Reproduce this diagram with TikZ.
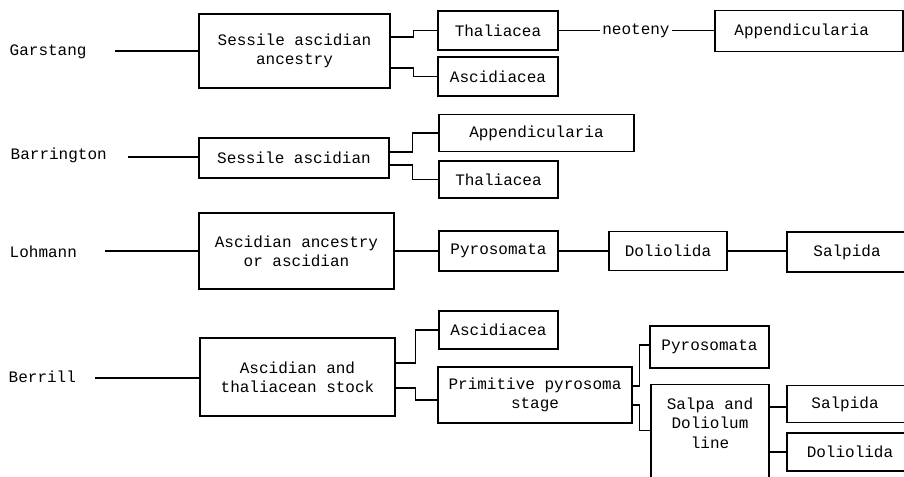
\documentclass[tikz,border=0pt]{standalone}
\usepackage{fontspec}
\setmonofont{Liberation Mono}
\usetikzlibrary{calc}

\tikzset{every picture/.style={line width=1.1pt}}
\tikzset{
  box/.style={draw, inner sep=0pt, align=center, font=\ttfamily\fontsize{12}{14.5}\selectfont},
  bw/.style={minimum width=#1*0.75pt},
  bh/.style={minimum height=#1*0.75pt},
  author/.style={anchor=west, inner sep=0pt, font=\ttfamily\fontsize{12}{14.5}\selectfont},
  word/.style={inner sep=1.5pt, font=\ttfamily\fontsize{12}{14.5}\selectfont}
}

\begin{document}
\begin{tikzpicture}[x=0.75pt,y=0.75pt,yscale=-1,xscale=1]
\useasboundingbox (0,0) rectangle (904,476);
\clip (0,0) rectangle (904,476);

%Garstang
\node [author] (lgar) at (9,52) {Garstang};
\coordinate (gstart) at (115,51);
\node [box, bw=191, bh=74] (gbox) at (294.5,51) {Sessile ascidian\\ancestry};
\node [box, bw=120, bh=39] (gthal) at (498,30.5) {Thaliacea};
\node [box, bw=120, bh=39] (gasc) at (498,76.5) {Ascidiacea};
\node [word] (gneo) at (636,30.5) {neoteny};
\node [box, bw=188, bh=41] (gapp) at (809,31) {\hspace*{-11pt}Appendicularia};
\draw (gstart) -- (gstart -| gbox.west);
\draw ($(gbox.east)+(0,-14)$) -- ++(23,0) |- (gthal.west);
\draw ($(gbox.east)+(0,17)$) -- ++(23,0) |- (gasc.west);
\draw (gthal.east) -- (gneo.west);
\draw (gneo.east) -- (gneo.east -| gapp.west);

%Barrington
\node [author] (lbar) at (10,155) {Barrington};
\coordinate (bstart) at (128,157);
\node [box, bw=190, bh=40] (bbox) at (294,158) {Sessile ascidian};
\node [box, bw=195, bh=37] (bapp) at (536.5,133) {Appendicularia};
\node [box, bw=119, bh=37] (bthal) at (498.5,179.5) {Thaliacea};
\draw (bstart) -- (bstart -| bbox.west);
\draw ($(bbox.east)+(0,-6)$) -- ++(23,0) |- (bapp.west);
\draw ($(bbox.east)+(0,7)$) -- ++(23,0) |- (bthal.west);

%Lohmann
\node [author] (lloh) at (9,252) {Lohmann};
\coordinate (lstart) at (105,251);
\node [box, bw=195, bh=76] (lbox) at (296.5,251) {Ascidian ancestry\\or ascidian};
\node [box, bw=119, bh=40] (lpyro) at (498.5,251) {Pyrosomata};
\node [box, bw=118, bh=39] (ldol) at (668,251) {Doliolida};
\node [box, bw=134, bh=40] (lsalp) at (854,252) {\hspace*{-10.5pt}Salpida};
\draw (lstart) -- (lstart -| lbox.west);
\draw (lbox.east) -- (lpyro.west);
\draw (lpyro.east) -- (ldol.west);
\draw (ldol.east) -- (ldol.east -| lsalp.west);

%Berrill
\node [author] (lber) at (8,377) {Berrill};
\coordinate (rstart) at (95,378);
\node [box, bw=195, bh=78] (rbox) at (297.5,377) {Ascidian and\\thaliacean stock};
\node [box, bw=119, bh=38] (rasc) at (498.5,330) {Ascidiacea};
\node [box, bw=194, bh=56] (rprim) at (535,395) {Primitive pyrosoma\\stage};
\node [box, bw=119, bh=42] (rpyro) at (709.5,347) {Pyrosomata};
\node [box, bw=118, bh=110, anchor=north] (rsalpa) at (710,384) {};
\node [word, align=center] (rsalpatxt) at (710,423) {Salpa and\\Doliolum\\line};
\node [box, bw=134, bh=37] (rsalpida) at (854,404) {\hspace*{-13.5pt}Salpida};
\node [box, bw=134, bh=38] (rdol) at (854,452) {\hspace*{-6pt}Doliolida};
\draw (rstart) -- (rstart -| rbox.west);
\draw ($(rbox.east)+(0,-14)$) -- ++(20,0) |- (rasc.west);
\draw ($(rbox.east)+(0,11)$) -- ++(20,0) |- ($(rprim.west)+(0,5)$);
\draw ($(rprim.east)+(0,-9)$) -- ++(7,0) |- ($(rpyro.west)+(0,-2)$);
\draw ($(rprim.east)+(0,10)$) -- ++(7,0) |- ($(rsalpa.west)+(0,-9)$);
\draw (rsalpa.east |- rsalpida.east) ++(0,3) -- ($(rsalpida.west)+(0,3)$);
\draw (rsalpa.east |- rdol.east) -- (rdol.west);

\end{tikzpicture}
\end{document}
